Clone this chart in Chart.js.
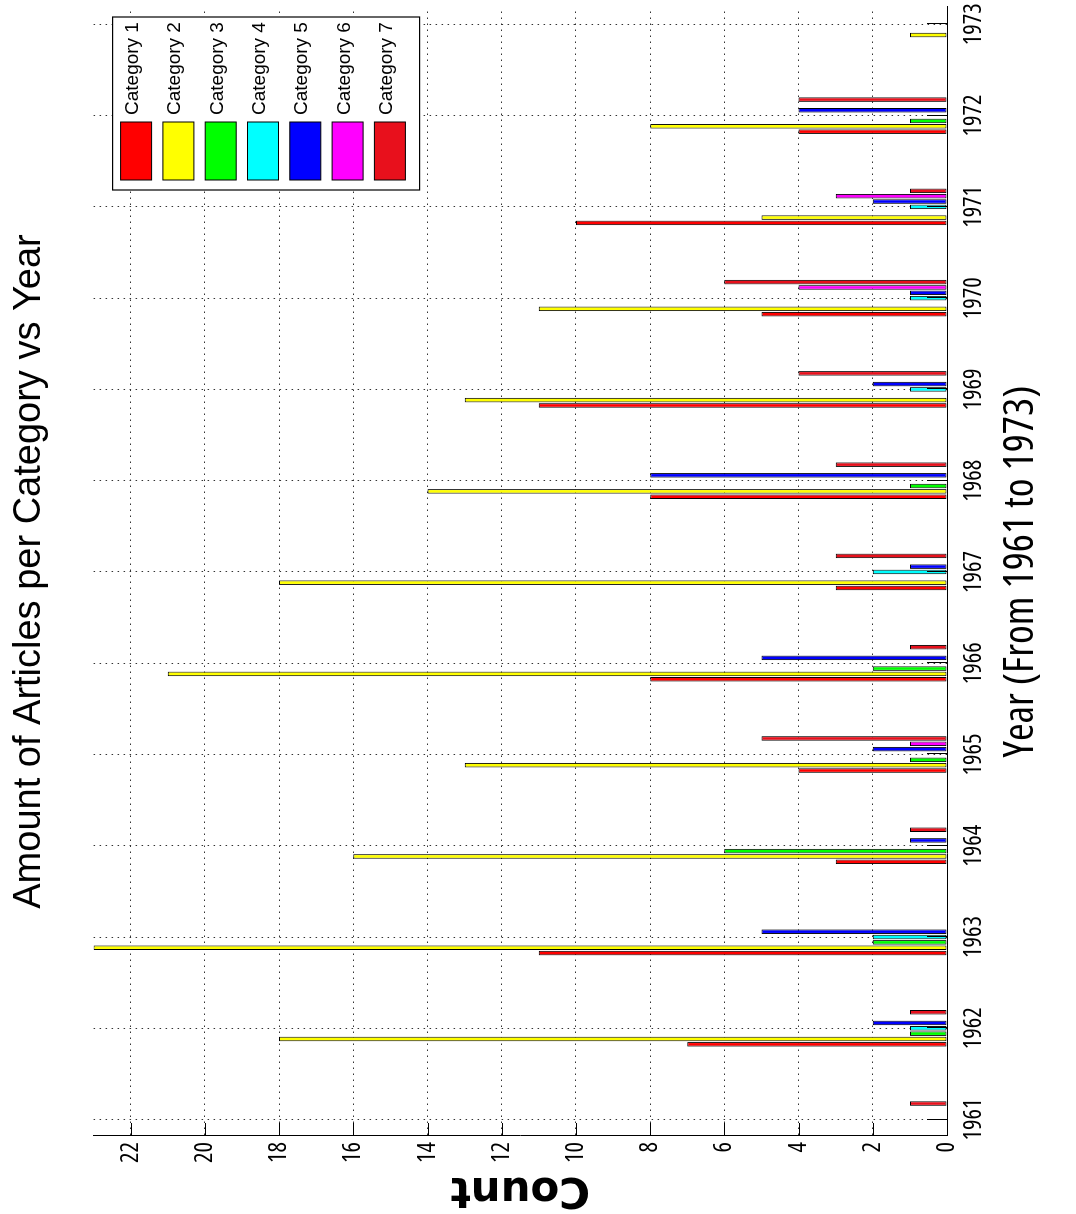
<!DOCTYPE html>
<html>
<head>
<meta charset="utf-8">
<title>Amount of Articles per Category vs Year</title>
<script src="https://cdn.jsdelivr.net/npm/chart.js@4/dist/chart.umd.min.js"></script>
<style>
  html, body { margin: 0; padding: 0; background: #fff; overflow: hidden; }
  /* the figure is drawn upright and then turned a quarter turn left */
  #wrap {
    position: absolute;
    left: 0;
    top: 0;
    width: 1214px;
    height: 1076px;
    transform-origin: 0 0;
    transform: translateY(1214px) rotate(-90deg);
  }
  #articlesChart { display: block; }
</style>
</head>
<body>
<div id="wrap"><canvas id="articlesChart" width="1214" height="1076"></canvas></div>
<script>
const years = [1961, 1962, 1963, 1964, 1965, 1966, 1967, 1968, 1969, 1970, 1971, 1972, 1973];
const categoryNames = ["Category 1", "Category 2", "Category 3", "Category 4", "Category 5", "Category 6", "Category 7"];
const category1 = [0, 7, 11, 3, 4, 8, 3, 8, 11, 5, 10, 4, 0];
const category2 = [0, 18, 23, 16, 13, 21, 18, 14, 13, 11, 5, 8, 1];
const category3 = [0, 1, 2, 6, 1, 2, 0, 1, 0, 0, 0, 1, 0];
const category4 = [0, 1, 2, 0, 0, 0, 2, 0, 1, 1, 1, 0, 0];
const category5 = [0, 2, 5, 1, 2, 5, 1, 8, 2, 1, 2, 4, 0];
const category6 = [0, 0, 0, 0, 1, 0, 0, 0, 0, 4, 3, 0, 0];
const category7 = [1, 1, 0, 1, 5, 1, 3, 3, 4, 6, 1, 4, 0];
const categoryColors = ["#ff0000", "#ffff00", "#00ff00", "#00ffff", "#0000ff", "#ff00ff", "#e8101c"];

const xTitleText = "Year (From 1961 to 1973)";

// the axis texts in the picture are narrow; take the narrowest face that is installed
function pickNarrowFont() {
  const ctx = document.createElement("canvas").getContext("2d");
  const candidates = [
    { weight: "normal", family: "'Liberation Sans', Arial, sans-serif" },
    { weight: "normal", family: "'Liberation Sans Narrow', 'Liberation Sans', sans-serif" },
    { weight: "normal", family: "'DejaVu Sans Condensed', 'Liberation Sans', sans-serif" },
    { weight: "normal condensed", family: "'Liberation Sans', sans-serif" },
    { weight: "normal extra-condensed", family: "'Noto Sans', 'Liberation Sans', sans-serif" },
    { weight: "normal extra-condensed", family: "'Open Sans', 'Liberation Sans', sans-serif" },
  ];
  let best = candidates[0];
  let bestWidth = Infinity;
  candidates.forEach((c) => {
    ctx.font = "normal " + c.weight + " 100px " + c.family;
    const w = ctx.measureText("1961").width;
    if (w < bestWidth - 0.5) {
      best = c;
      bestWidth = w;
    }
  });
  ctx.font = "normal " + best.weight + " 100px " + best.family;
  return {
    weight: best.weight,
    family: best.family,
    tickUnit: ctx.measureText("1961").width / 100,
    titleUnit: ctx.measureText(xTitleText).width / 100,
  };
}

document.addEventListener("DOMContentLoaded", function () {
  const canvas = document.getElementById("articlesChart");
  const narrow = pickNarrowFont();
  const tickSize = Math.min(30, 42 / narrow.tickUnit);
  const xTitleSize = Math.min(46, 372 / narrow.titleUnit);
  const series = [category1, category2, category3, category4, category5, category6, category7];

  const datasets = series.map((values, i) => ({
    label: categoryNames[i],
    data: values.map((v, j) => ({ x: years[j], y: v })),
    backgroundColor: categoryColors[i],
    borderColor: "#000",
    borderWidth: 1,
    borderSkipped: false,
    categoryPercentage: 0.41,
    barPercentage: 0.85,
  }));

  // MATLAB style ticks pointing into the plot
  const innerTicks = {
    id: "innerTicks",
    afterDatasetsDraw(chart) {
      const { ctx, chartArea, scales } = chart;
      ctx.save();
      ctx.strokeStyle = "#000";
      ctx.lineWidth = 1;
      ctx.beginPath();
      scales.x.ticks.forEach((t, i) => {
        const px = Math.round(scales.x.getPixelForTick(i)) + 0.5;
        ctx.moveTo(px, chartArea.bottom);
        ctx.lineTo(px, chartArea.bottom - 20);
      });
      scales.y.ticks.forEach((t, i) => {
        const py = Math.round(scales.y.getPixelForTick(i)) + 0.5;
        ctx.moveTo(chartArea.left, py);
        ctx.lineTo(chartArea.left + 13, py);
      });
      ctx.stroke();
      ctx.restore();
    },
  };

  // boxed legend in the upper right corner of the plot
  const boxLegend = {
    id: "boxLegend",
    afterDraw(chart) {
      const { ctx, chartArea } = chart;
      const sets = chart.data.datasets;
      const right = chartArea.right - 10;
      const left = right - 173;
      const top = chartArea.top + 19;
      const height = 307;
      ctx.save();
      ctx.fillStyle = "#fff";
      ctx.fillRect(left, top, right - left, height);
      ctx.strokeStyle = "#000";
      ctx.lineWidth = 1.2;
      ctx.strokeRect(left, top, right - left, height);
      ctx.font = "19px 'Liberation Sans', Arial, sans-serif";
      ctx.textBaseline = "alphabetic";
      ctx.textAlign = "left";
      sets.forEach((ds, i) => {
        const cy = top + 23.5 + i * 42.3;
        ctx.fillStyle = ds.backgroundColor;
        ctx.fillRect(left + 10, cy - 15.5, 58, 31);
        ctx.lineWidth = 1;
        ctx.strokeRect(left + 10, cy - 15.5, 58, 31);
        ctx.fillStyle = "#000";
        ctx.fillText(ds.label, left + 75, cy + 2);
      });
      ctx.restore();
    },
  };

  new Chart(canvas, {
    type: "bar",
    data: { datasets: datasets },
    plugins: [innerTicks, boxLegend],
    options: {
      responsive: false,
      animation: false,
      devicePixelRatio: 1,
      events: [],
      layout: { padding: { left: 0, right: 7, top: 0, bottom: 0 } },
      plugins: {
        legend: { display: false },
        tooltip: { enabled: false },
        title: {
          display: true,
          text: "Amount of Articles per Category vs Year",
          fullSize: false,
          color: "#000",
          font: { family: "'Liberation Sans', Arial, sans-serif", size: 38, weight: "normal" },
          padding: { top: 7, bottom: 41 },
        },
      },
      scales: {
        x: {
          type: "linear",
          position: "bottom",
          min: 1960.82,
          max: 1973.19,
          offset: false,
          afterFit: (scale) => {
            scale.height = 129;
            scale.paddingLeft = 0;
            scale.paddingRight = 0;
          },
          ticks: {
            stepSize: 1,
            includeBounds: false,
            autoSkip: false,
            maxRotation: 0,
            minRotation: 0,
            padding: 26.5 - 0.6 * tickSize,
            color: "#000",
            font: { family: narrow.family, weight: narrow.weight, size: tickSize },
            callback: (v) => String(v),
          },
          grid: { drawTicks: false, offset: false, color: "#333", lineWidth: 1 },
          border: { display: true, color: "#000", width: 1, dash: [1.5, 4.5] },
          title: {
            display: true,
            text: xTitleText,
            color: "#000",
            font: { family: narrow.family, weight: narrow.weight, size: xTitleSize },
            padding: { top: 0, bottom: 55 - 0.6 * xTitleSize },
          },
        },
        y: {
          type: "linear",
          min: 0,
          max: 23,
          afterFit: (scale) => {
            scale.width = 78;
            scale.paddingTop = 0;
            scale.paddingBottom = 0;
          },
          ticks: {
            stepSize: 2,
            includeBounds: false,
            padding: 6,
            color: "#000",
            font: { family: narrow.family, weight: narrow.weight, size: tickSize },
          },
          grid: { drawTicks: false, color: "#333", lineWidth: 1 },
          border: { display: true, color: "#000", width: 1, dash: [1.5, 4.5] },
          title: {
            display: true,
            text: "Count",
            color: "#000",
            font: { family: "'DejaVu Sans', sans-serif", size: 42, weight: "bold" },
            padding: { top: 0, bottom: 0 },
          },
        },
      },
    },
  });
});
</script>
</body>
</html>
